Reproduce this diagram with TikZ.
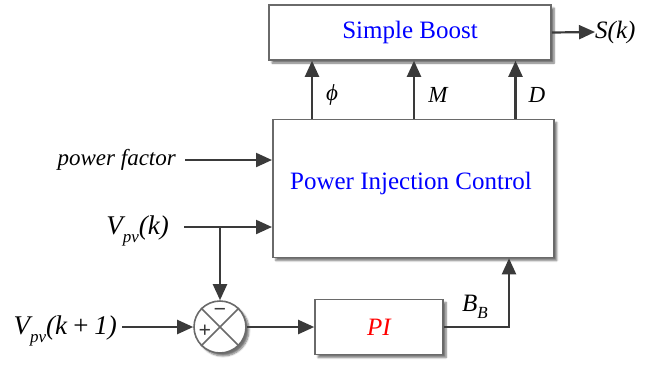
\documentclass[tikz,border=0pt]{standalone}
\usepackage{fontspec}
\setmainfont{Liberation Serif}
\usetikzlibrary{arrows.meta,shadows.blur,calc}
\definecolor{linec}{HTML}{3A3A3A}
\definecolor{boxc}{HTML}{6A6A6A}
\begin{document}
\begin{tikzpicture}[x=1pt,y=-1pt,
  blk/.style={draw=boxc, line width=1.6pt, fill=white,
    blur shadow={shadow xshift=3pt, shadow yshift=-3pt, shadow blur steps=6, shadow opacity=55}},
  sig/.style={draw=linec, line width=2.2pt, -{Triangle[length=16pt,width=14pt]}},
  lbl/.style={font=\fontsize{23}{27}\selectfont\itshape, inner sep=0pt},
  vlbl/.style={font=\fontsize{27}{30}\selectfont\itshape, inner sep=0pt},
  btxt/.style={font=\fontsize{25}{29}\selectfont},
]
\useasboundingbox (0,0) rectangle (652,365);

% blocks
\node[blk, btxt, minimum width=282pt, minimum height=55pt] (sb) at (410,32.5) {\textcolor{blue}{Simple Boost}};
\node[blk, btxt, minimum width=281pt, minimum height=138pt] (pic) at (413.3,188.5) {};
\node[btxt] (pictxt) at (411,183) {\textcolor{blue}{Power Injection Control}};
\node[blk, minimum width=128pt, minimum height=55pt, font=\fontsize{25}{29}\selectfont\itshape] (pi) at (379,327) {\textcolor{red}{PI}};
\node[blk, circle, minimum size=52pt, inner sep=0pt] (sum) at (220,327) {};
\draw[boxc, line width=1.5pt] (sum.north west) -- (sum.south east) (sum.north east) -- (sum.south west);
\node[font=\fontsize{22}{22}\selectfont\bfseries, text=linec, inner sep=0pt] (plus) at (205,331) {+};
\node[font=\fontsize{22}{22}\selectfont\bfseries, text=linec, inner sep=0pt] (minus) at (220,312) {\textminus};

% input labels
\coordinate (pfout) at (185,160);
\node[lbl, anchor=east] (pf) at (176,160) {power factor};
\coordinate (vkout) at (184,227);
\node[vlbl, anchor=base east] (vk) at (169,234) {V\raisebox{-8pt}{\fontsize{17}{17}\selectfont pv}(k)};
\coordinate (vk1out) at (122,327);
\node[vlbl, anchor=base east] (vk1) at (117,334) {V\raisebox{-8pt}{\fontsize{17}{17}\selectfont pv}(k\,+\,1)};

% connectors into PIC
\draw[sig] (pfout) -- (pfout -| pic.west);
\draw[sig] (vkout) -- (vkout -| pic.west);
\draw[sig] (vkout -| sum.north) -- (sum.north);
\draw[sig] (vk1out) -- (sum.west);
\draw[sig] (sum.east) -- (pi.west);
\coordinate (bbx) at (509,0);
\draw[sig] (pi.east) -| (bbx |- pic.south);
\node[lbl, anchor=base west, font=\fontsize{25}{29}\selectfont\itshape] (bb) at (462,311) {B\raisebox{-7pt}{\fontsize{17}{17}\selectfont B}};

% PIC to Simple Boost
\coordinate (a1) at (312,0);
\coordinate (a2) at (414,0);
\coordinate (a3) at (515.5,0);
\draw[sig] (a1 |- pic.north) -- (a1 |- sb.south);
\draw[sig] (a2 |- pic.north) -- (a2 |- sb.south);
\draw[sig] (a3 |- pic.north) -- (a3 |- sb.south);
\node[lbl] (phi) at (332,95) {ϕ};
\node[lbl] (m) at (438,95) {M};
\node[lbl] (d) at (537,95) {D};

% output
\node[lbl, anchor=west, font=\fontsize{25}{29}\selectfont\itshape] (sk) at (595,32) {S(k)};
\draw[sig] (sb.east) -- (sk.west);
\end{tikzpicture}
\end{document}
